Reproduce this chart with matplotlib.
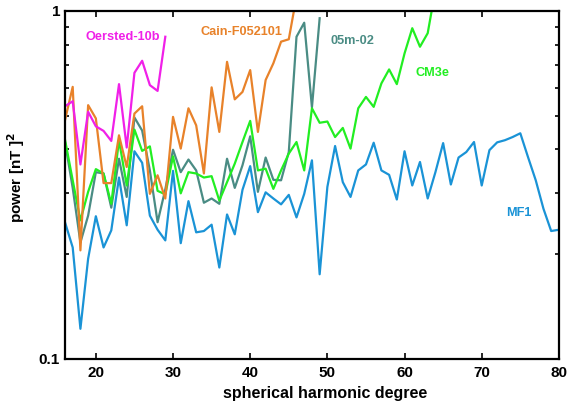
import numpy as np
import matplotlib.pyplot as plt
from matplotlib.ticker import FixedLocator, NullFormatter

plt.rcParams['font.family'] = ['Liberation Sans', 'DejaVu Sans']
plt.rcParams['font.weight'] = 'bold'

# degree-wise power spectra
deg_mf1 = list(range(16, 81))
mf1 = [0.247, 0.209, 0.122, 0.194, 0.257, 0.209, 0.234, 0.332, 0.242, 0.395,
       0.366, 0.258, 0.235, 0.219, 0.347, 0.215, 0.284, 0.231, 0.233, 0.243,
       0.183, 0.260, 0.228, 0.306, 0.358, 0.264, 0.301, 0.289, 0.278, 0.296,
       0.255, 0.298, 0.372, 0.175, 0.312, 0.409, 0.322, 0.292, 0.348, 0.362,
       0.418, 0.348, 0.338, 0.287, 0.395, 0.315, 0.368, 0.289, 0.344, 0.417,
       0.317, 0.379, 0.393, 0.420, 0.315, 0.398, 0.419, 0.425, 0.434, 0.445,
       0.380, 0.326, 0.270, 0.233, 0.235]

deg_cm3e = list(range(16, 65))
cm3e = [0.427, 0.326, 0.250, 0.302, 0.351, 0.341, 0.279, 0.425, 0.315, 0.456,
        0.396, 0.408, 0.304, 0.297, 0.382, 0.299, 0.344, 0.341, 0.332, 0.335,
        0.285, 0.322, 0.364, 0.420, 0.483, 0.348, 0.352, 0.308, 0.348, 0.389,
        0.420, 0.348, 0.525, 0.477, 0.481, 0.434, 0.461, 0.402, 0.525, 0.566,
        0.530, 0.619, 0.679, 0.616, 0.755, 0.892, 0.789, 0.863, 1.15]

deg_05m = list(range(16, 50))
m05 = [0.420, 0.310, 0.216, 0.258, 0.344, 0.341, 0.272, 0.376, 0.292, 0.494,
       0.453, 0.348, 0.247, 0.307, 0.399, 0.344, 0.374, 0.348, 0.281, 0.289,
       0.279, 0.376, 0.310, 0.360, 0.436, 0.302, 0.379, 0.327, 0.326, 0.393,
       0.843, 0.925, 0.528, 0.953]

deg_cain = list(range(16, 47))
cain = [0.485, 0.605, 0.205, 0.536, 0.491, 0.320, 0.320, 0.439, 0.356, 0.507,
        0.532, 0.298, 0.337, 0.289, 0.496, 0.402, 0.525, 0.469, 0.341, 0.603,
        0.449, 0.714, 0.557, 0.585, 0.676, 0.449, 0.633, 0.707, 0.816, 0.829,
        1.10]

deg_oersted = list(range(16, 30))
oersted = [0.532, 0.550, 0.362, 0.513, 0.466, 0.452, 0.423, 0.616, 0.405, 0.664,
           0.719, 0.612, 0.589, 0.843]

fig = plt.figure(figsize=(5.71, 4.05), dpi=100)
ax = fig.add_axes([0.1138, 0.114, 0.865, 0.859])

c_mf1 = '#1a93d6'
c_cm3e = '#22ee22'
c_05m = '#4a8c84'
c_cain = '#e8822a'
c_oer = '#f020e8'

ax.plot(deg_mf1, mf1, color=c_mf1, lw=1.6)
ax.plot(deg_05m, m05, color=c_05m, lw=1.6)
ax.plot(deg_cm3e, cm3e, color=c_cm3e, lw=1.6)
ax.plot(deg_cain, cain, color=c_cain, lw=1.6)
ax.plot(deg_oersted, oersted, color=c_oer, lw=1.6)

ax.set_yscale('log')
ax.set_xlim(16, 80)
ax.set_ylim(0.1, 1)

ax.set_xticks(range(20, 81, 10))
ax.yaxis.set_major_locator(FixedLocator([0.1, 1]))
ax.set_yticklabels(['0.1', '1'])
ax.yaxis.set_minor_locator(FixedLocator(np.arange(0.2, 1.0, 0.1)))
ax.yaxis.set_minor_formatter(NullFormatter())
ax.tick_params(which='both', direction='in', top=True, right=True,
               labelsize=11, width=1.2)
ax.tick_params(axis='x', pad=5)
ax.tick_params(which='major', length=4)
ax.tick_params(which='minor', length=3)
for s in ax.spines.values():
    s.set_linewidth(1.6)

ax.set_xlabel('spherical harmonic degree', fontsize=11.5, fontweight='bold')
ax.xaxis.set_label_coords(0.526, -0.078)
ax.set_ylabel(r'power [nT ]$^{\mathbf{2}}$', fontsize=11, fontweight='bold')
ax.yaxis.set_label_coords(-0.076, 0.52)

kw = dict(fontsize=9.2, fontweight='bold', va='center', ha='left')
ax.text(18.6, 0.84, 'Oersted-10b', color=c_oer, **kw)
ax.text(33.5, 0.87, 'Cain-F052101', color=c_cain, **kw)
ax.text(50.4, 0.82, '05m-02', color=c_05m, **kw)
ax.text(61.4, 0.664, 'CM3e', color=c_cm3e, **kw)
ax.text(73.2, 0.262, 'MF1', color=c_mf1, **kw)

fig.savefig('out.png', dpi=100)
